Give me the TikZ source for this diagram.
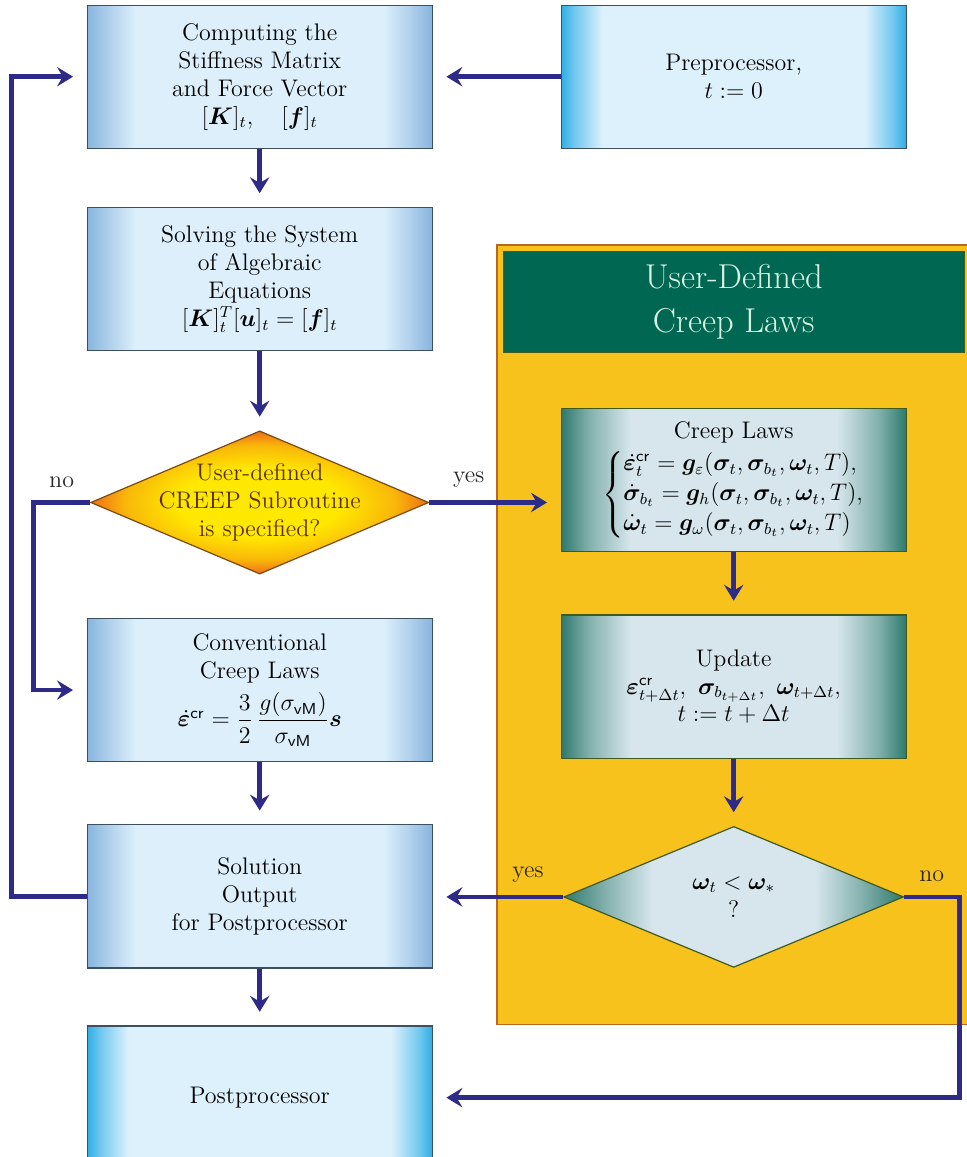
\documentclass[tikz,border=0pt]{standalone}
\usepackage{xcolor}
\usepackage{amsmath}
\usepackage{amssymb}
\usepackage{bm}
\usepackage{tikz}
\usetikzlibrary{shapes.geometric,arrows.meta,positioning,calc,backgrounds}
\definecolor{boxedge}{RGB}{136,180,222}
\definecolor{boxmid}{RGB}{220,239,251}
\definecolor{ioedge}{RGB}{47,174,230}
\definecolor{iomid}{RGB}{221,241,252}
\definecolor{tealedge}{RGB}{46,122,108}
\definecolor{tealmid}{RGB}{214,230,236}
\definecolor{askin}{RGB}{255,232,0}
\definecolor{askout}{RGB}{240,110,24}
\definecolor{askdraw}{RGB}{122,74,16}
\definecolor{askink}{RGB}{90,46,10}
\definecolor{panelfill}{RGB}{248,194,28}
\definecolor{paneldraw}{RGB}{184,104,30}
\definecolor{hdrfill}{RGB}{0,104,82}
\definecolor{hdrtext}{RGB}{217,242,228}
\definecolor{lawdraw}{RGB}{62,90,30}
\definecolor{boxdraw}{RGB}{60,80,96}
\definecolor{flow}{RGB}{45,43,135}
\colorlet{boxband}{boxedge!55!boxmid}
\colorlet{ioband}{ioedge!60!iomid}
\colorlet{tealband}{tealedge!50!tealmid}
\colorlet{askmid}{askin!60!askout}
% side bands of the boxes (tikz maps 25bp..75bp onto the path)
\pgfdeclarehorizontalshading{bluebar}{100bp}{color(0bp)=(boxedge); color(25bp)=(boxedge);
  color(28bp)=(boxband); color(32bp)=(boxmid); color(68bp)=(boxmid); color(72bp)=(boxband);
  color(75bp)=(boxedge); color(100bp)=(boxedge)}
\pgfdeclarehorizontalshading{iobar}{100bp}{color(0bp)=(ioedge); color(25bp)=(ioedge);
  color(27bp)=(ioband); color(31bp)=(iomid); color(69bp)=(iomid); color(73bp)=(ioband);
  color(75bp)=(ioedge); color(100bp)=(ioedge)}
\pgfdeclarehorizontalshading{tealbar}{100bp}{color(0bp)=(tealedge); color(25bp)=(tealedge);
  color(29bp)=(tealband); color(35bp)=(tealmid); color(65bp)=(tealmid); color(71bp)=(tealband);
  color(75bp)=(tealedge); color(100bp)=(tealedge)}
\pgfdeclarehorizontalshading{tealdia}{100bp}{color(0bp)=(tealedge); color(25bp)=(tealedge);
  color(31bp)=(tealband); color(38bp)=(tealmid); color(62bp)=(tealmid); color(69bp)=(tealband);
  color(75bp)=(tealedge); color(100bp)=(tealedge)}
\pgfdeclareradialshading{askglow}{\pgfpoint{0bp}{0bp}}{color(0bp)=(askin); color(12bp)=(askin);
  color(20bp)=(askmid); color(25bp)=(askout); color(50bp)=(askout)}
\tikzset{
  blk/.style={rectangle,draw=boxdraw,line width=0.6pt,shade,shading=bluebar,
    minimum width=6.07cm,minimum height=2.52cm,align=center,font=\large},
  io/.style={blk,shading=iobar},
  law/.style={blk,draw=lawdraw,shading=tealbar},
  ask/.style={diamond,draw=askdraw,line width=0.6pt,shade,shading=askglow,
    minimum width=5.95cm,minimum height=2.52cm,inner sep=0pt},
  asktext/.style={align=center,font=\large,text=askink},
  chk/.style={diamond,draw=lawdraw,line width=0.6pt,shade,shading=tealdia,
    minimum width=5.98cm,minimum height=2.48cm,inner sep=0pt},
  hdr/.style={rectangle,draw=lawdraw,line width=0.5pt,fill=hdrfill,text=hdrtext,
    minimum width=8.11cm,minimum height=1.78cm,align=center,font=\LARGE},
  panel/.style={draw=paneldraw,line width=0.6pt,fill=panelfill},
  arr/.style={-{Stealth[length=2.8mm,width=3.4mm,inset=1mm]},line width=2.4pt,draw=flow,
    shorten >=2.4mm},
  lbl/.style={font=\large,text=black!85}
}

\begin{document}
\begin{tikzpicture}
    \useasboundingbox (0,0) rectangle (17.0,-20.36);

    \node[blk] (comp) at (4.57,-1.35) {Computing the\\ Stiffness Matrix\\ and Force Vector\\
      $[\bm{K}]_t,\quad [\bm{f}]_t$};
    \node[io,right=2.25cm of comp] (pre) {Preprocessor,\\ $t:=0$};
    \node[blk,below=1.02cm of comp] (solve) {Solving the System\\ of Algebraic\\ Equations\\
      $[\bm{K}]_t^T[\bm{u}]_t=[\bm{f}]_t$};
    \node[ask,below=1.39cm of solve,
      label={[asktext]center:User-defined\\ CREEP Subroutine\\ is specified?}] (creep) {};
    \node[blk,below=0.76cm of creep] (conv) {Conventional\\ Creep Laws\\[4pt]
      $\dot{\bm{\varepsilon}}^{\mathsf{cr}}=\dfrac{3}{2}\,\dfrac{g(\sigma_{\mathsf{vM}})}{\sigma_{\mathsf{vM}}}\bm{s}$};
    \node[blk,below=1.09cm of conv] (sol) {Solution\\ Output\\ for Postprocessor};
    \node[io,below=1.0cm of sol] (post) {Postprocessor};

    \node[law,below=4.56cm of pre] (laws) {Creep Laws\\[3pt]
      $\left\{\begin{array}{@{}l@{}}
        \dot{\bm{\varepsilon}}{}_t^{\mathsf{cr}}=\bm{g}_\varepsilon(\bm{\sigma}_t,\bm{\sigma}_{b_t},\bm{\omega}_t,T),\\[1pt]
        \dot{\bm{\sigma}}_{b_t}=\bm{g}_h(\bm{\sigma}_t,\bm{\sigma}_{b_t},\bm{\omega}_t,T),\\[1pt]
        \dot{\bm{\omega}}_t=\bm{g}_\omega(\bm{\sigma}_t,\bm{\sigma}_{b_t},\bm{\omega}_t,T)
      \end{array}\right.$};
    \node[law,below=1.09cm of laws] (upd) {Update\\
      $\bm{\varepsilon}^{\mathsf{cr}}_{t+\Delta t},\ \bm{\sigma}_{b_{t+\Delta t}},\ \bm{\omega}_{t+\Delta t},$\\
      $t:=t+\Delta t$};
    \node[chk,below=1.18cm of upd,
      label={[align=center,font=\large]center:$\bm{\omega}_t<\bm{\omega}_*$\\ ?}] (stop) {};
    \node[hdr,above=0.97cm of laws] (title) {User-Defined\\ Creep Laws};

    \begin{scope}[on background layer]
      \draw[panel] ($(title.north west)+(-0.1,0.1)$) rectangle ($(stop.south -| title.east)+(0.6,-1.0)$);
    \end{scope}

    \draw[arr] (pre) -- (comp);
    \draw[arr] (comp) -- (solve);
    \draw[arr] (solve) -- (creep);
    \draw[arr] (creep.east) -- node[lbl,above=1mm,pos=0.3] {yes} (creep.east -| laws.west);
    \draw[arr] (creep.west) -- node[lbl,above=1mm] {no} ++(-1.0,0) |- (conv.west);
    \draw[arr] (conv) -- (sol);
    \draw[arr] (sol) -- (post);
    \draw[arr] (sol.west) -- ++(-1.32,0) |- (comp.west);
    \draw[arr] (laws) -- (upd);
    \draw[arr] (upd) -- (stop);
    \draw[arr] (stop.west) -- node[lbl,above=1mm,pos=0.27] {yes} (stop.west -| sol.east);
    \draw[arr] (stop.east) -- node[lbl,above=1mm] {no} ++(0.97,0) |- (post.east);
  \end{tikzpicture}
\end{document}
